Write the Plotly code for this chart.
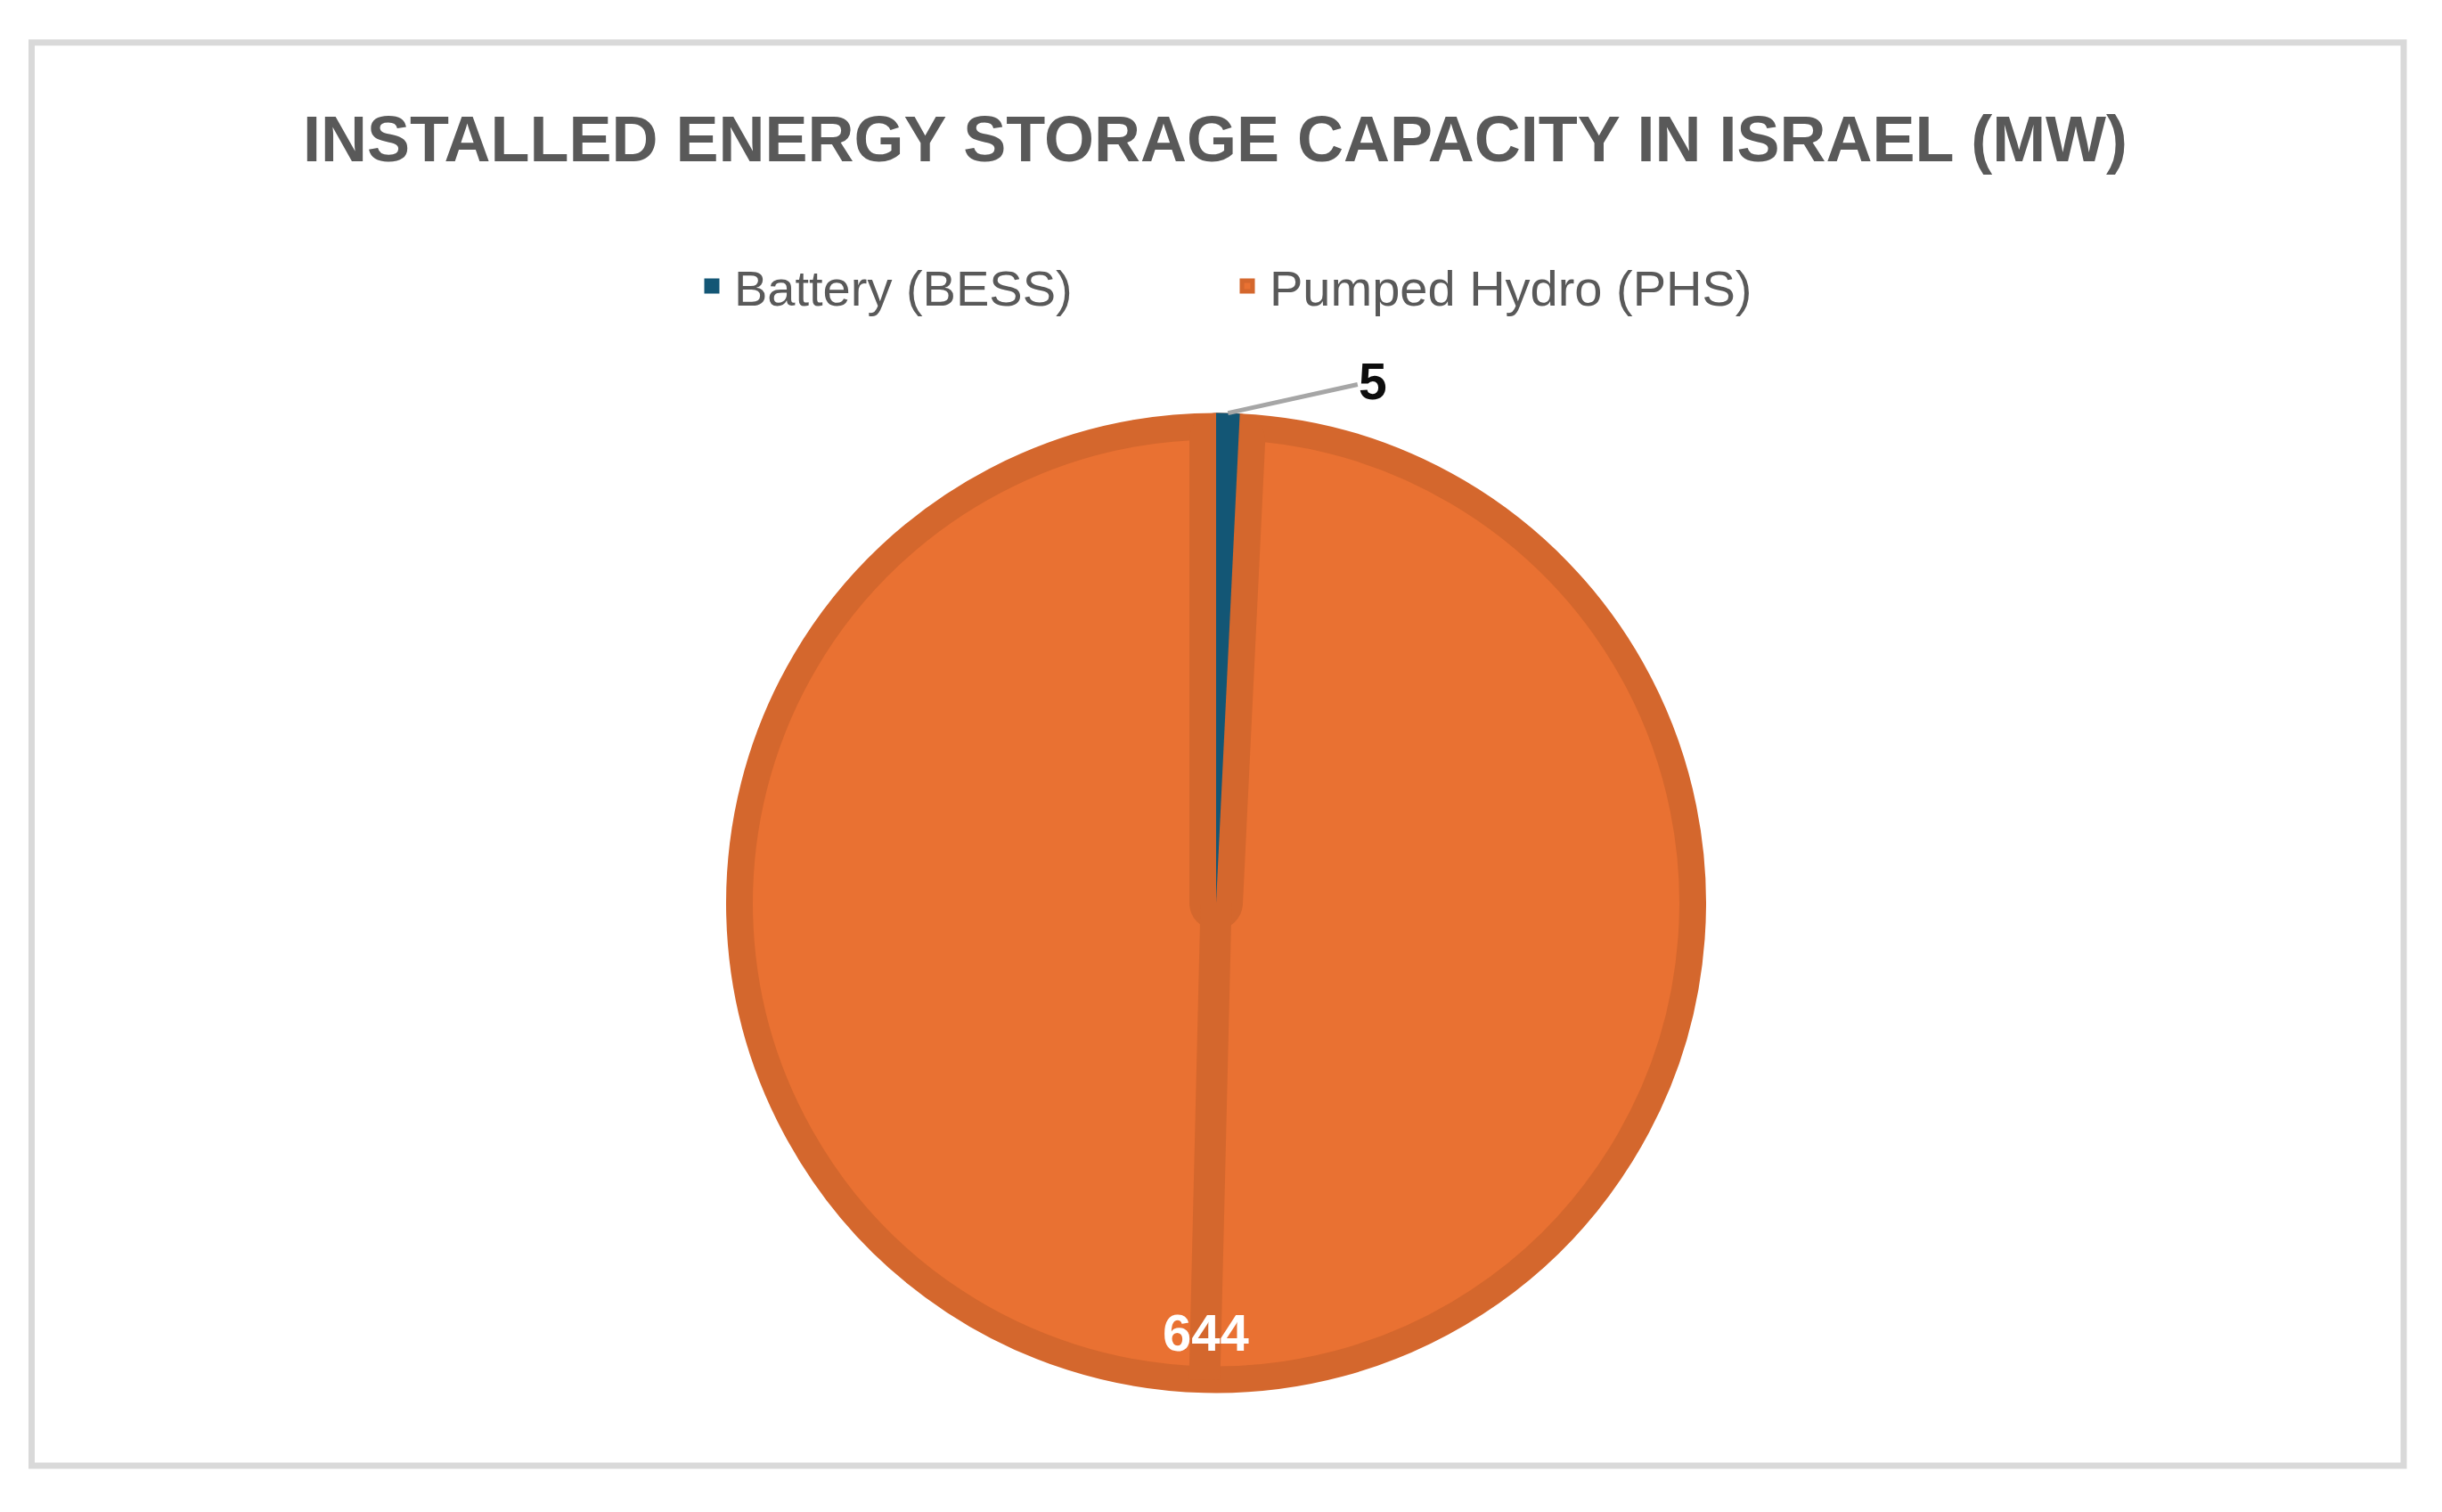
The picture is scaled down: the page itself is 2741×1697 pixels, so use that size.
import math
import plotly.graph_objects as go

# ---- data ----
labels = ["Battery (BESS)", "Pumped Hydro (PHS)"]
values = [5, 644]
title_text = "INSTALLED ENERGY STORAGE CAPACITY IN ISRAEL (MW)"

# ---- style ----
W, H = 2741, 1697
CX, CY = 1365.0, 1013.5          # pie centre in px (from top-left)
R_OUT = 550.0                    # visible outer radius
LW = 30.0                        # slice border width
BLUE = "#135675"
ORANGE = "#E97132"
ORANGE_DK = "#D4672D"
CLEAR = "rgba(0,0,0,0)"
GREY_TXT = "#595959"
FONT = "Liberation Sans, Arial, sans-serif"


def dom(r):
    return dict(x=[(CX - r) / W, (CX + r) / W],
                y=[1 - (CY + r) / H, 1 - (CY - r) / H])


def px_to_paper(x, y):
    return x / W, 1 - y / H


def polar(angle_deg, r):
    a = math.radians(angle_deg)
    return CX + r * math.sin(a), CY - r * math.cos(a)


total = sum(values)
# mid-angles (clockwise from 12 o'clock), from the data
starts = []
acc = 0
for v in values:
    starts.append(acc / total * 360)
    acc += v
mids = [starts[i] + values[i] / total * 180 for i in range(len(values))]

fig = go.Figure()

# main pie (legend trace)
fig.add_trace(go.Pie(
    labels=labels, values=values, sort=False, direction="clockwise", rotation=0,
    marker=dict(colors=[BLUE, ORANGE], line=dict(color=[BLUE, ORANGE_DK], width=LW)),
    textinfo="none", hoverinfo="label+value", domain=dom(R_OUT - LW / 2),
    showlegend=True,
))
# border bands flanking the small slice
fig.add_trace(go.Pie(
    labels=labels, values=values, sort=False, direction="clockwise", rotation=0,
    marker=dict(colors=[CLEAR, CLEAR], line=dict(color=[ORANGE_DK, CLEAR], width=[2 * LW, 0])),
    textinfo="none", hoverinfo="skip", domain=dom(R_OUT - LW),
    showlegend=False,
))
# small slice fill on top
fig.add_trace(go.Pie(
    labels=labels, values=values, sort=False, direction="clockwise", rotation=0,
    marker=dict(colors=[BLUE, CLEAR], line=dict(width=0)),
    textinfo="none", hoverinfo="skip", domain=dom(R_OUT),
    showlegend=False,
))

shapes = []
# chart-area frame
shapes.append(dict(type="rect", xref="paper", yref="paper",
                   x0=35.5 / W, x1=2698 / W, y0=1 - 1645 / H, y1=1 - 47.7 / H,
                   line=dict(color="#D9D9D9", width=7), fillcolor=CLEAR, layer="below"))
# split line of the large slice at its mid-angle
ex, ey = polar(mids[1], R_OUT - LW / 2)
x0p, y0p = px_to_paper(CX, CY)
x1p, y1p = px_to_paper(ex, ey)
shapes.append(dict(type="line", xref="paper", yref="paper", x0=x0p, y0=y0p, x1=x1p, y1=y1p,
                   line=dict(color=ORANGE_DK, width=35), layer="above"))

annotations = []
# label of small slice (outside, with leader line)
tx, ty = polar(mids[0], R_OUT)
txp, typ = px_to_paper(tx, ty)
annotations.append(dict(x=txp, y=typ, xref="paper", yref="paper",
                        text="<b>%d</b>" % values[0], showarrow=True,
                        ax=163, ay=-36, axref="pixel", ayref="pixel",
                        arrowhead=0, arrowwidth=5, arrowcolor="#A6A6A6", standoff=0,
                        font=dict(family=FONT, size=57, color="#0D0D0D")))
# label of large slice (inside end)
lx, ly = polar(mids[1], R_OUT - 67.5)
lxp, lyp = px_to_paper(lx, ly)
annotations.append(dict(x=lxp, y=lyp, xref="paper", yref="paper",
                        text="<b>%d</b>" % values[1], showarrow=False,
                        xanchor="center", yanchor="middle",
                        font=dict(family=FONT, size=58, color="#FFFFFF")))

fig.update_layout(
    width=W, height=H, autosize=False,
    margin=dict(l=0, r=0, t=0, b=0, pad=0),
    paper_bgcolor="white", plot_bgcolor="white",
    title=dict(text="<b>%s</b>" % title_text, x=1364 / W, xanchor="center", xref="paper",
               y=1 - 156 / H, yanchor="middle", yref="paper",
               font=dict(family=FONT, size=72, color=GREY_TXT)),
    legend=dict(orientation="h", x=774 / W, xanchor="left", y=1 - 321 / H, yanchor="middle",
                font=dict(family=FONT, size=56, color=GREY_TXT),
                itemwidth=40, entrywidth=546, entrywidthmode="pixels",
                bgcolor=CLEAR, borderwidth=0, traceorder="normal"),
    shapes=shapes, annotations=annotations,
)

fig.write_html("out.html", config={"displayModeBar": False},
               post_script="document.body.style.margin='0';document.body.style.overflow='hidden';")
